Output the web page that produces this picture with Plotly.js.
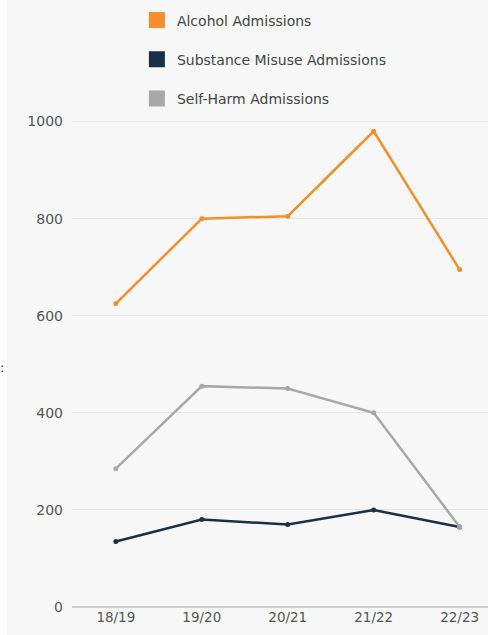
<!DOCTYPE html>
<html>
<head>
<meta charset="utf-8">
<script src="https://cdn.plot.ly/plotly-3.0.1.min.js"></script>
<style>
  html, body { margin: 0; padding: 0; background: #ffffff; width: 488px; height: 635px; overflow: hidden; }
  #chart { position: absolute; left: 7px; top: 0; width: 481px; height: 635px; }
  #frag { position: absolute; left: 0px; top: 360px; font-family: "DejaVu Sans"; font-size: 13px; color: #1b2f48; }
</style>
</head>
<body>
<span id="frag">:</span>
<div id="chart"></div>
<script>
const years = ["18/19", "19/20", "20/21", "21/22", "22/23"];
const alcohol = [625, 800, 805, 980, 695];
const substance = [135, 180, 170, 200, 165];
const selfHarm = [285, 455, 450, 400, 165];
const seriesNames = ["Alcohol Admissions", "Substance Misuse Admissions", "Self-Harm Admissions"];
const seriesColors = ["#f28f2c", "#1b2f48", "#a8a8a8"];
const yTicks = [0, 200, 400, 600, 800, 1000];

const allSeries = [alcohol, substance, selfHarm];
const traces = [];
allSeries.forEach((vals, i) => {
  traces.push({
    x: years, y: vals, type: "scatter", mode: "lines+markers",
    line: { color: seriesColors[i], width: 2.5 },
    marker: { color: seriesColors[i], size: 5 },
    showlegend: false, hoverinfo: "skip"
  });
});
allSeries.forEach((vals, i) => {
  traces.push({
    x: [null], y: [null], type: "scatter", mode: "markers",
    name: seriesNames[i], legendgroup: "g" + i,
    marker: { color: seriesColors[i], size: 16, symbol: "square" },
    showlegend: true
  });
});

const layout = {
  width: 481, height: 635,
  margin: { l: 65, r: 0, t: 107, b: 28 },
  paper_bgcolor: "#f7f7f7", plot_bgcolor: "#f7f7f7",
  font: { family: "DejaVu Sans", color: "#555555", size: 14 },
  xaxis: {
    type: "category", range: [-0.51, 4.33],
    showgrid: false, zeroline: false, showline: false,
    ticks: "", tickfont: { size: 13.5, color: "#555555" }
  },
  yaxis: {
    range: [0, 1030], tickvals: yTicks, ticktext: yTicks.map(String),
    showgrid: true, gridcolor: "#e6e6e6", gridwidth: 1,
    zeroline: true, zerolinecolor: "#cfcfcf", zerolinewidth: 1.5,
    ticks: "", ticklabelstandoff: 8, tickfont: { size: 14, color: "#555555" }
  },
  legend: {
    orientation: "v", x: 0.156, xanchor: "left", y: 1.205, yanchor: "top",
    traceorder: "grouped", tracegroupgap: 18,
    bgcolor: "rgba(0,0,0,0)", font: { size: 14, color: "#444444" },
    itemsizing: "trace"
  }
};

Plotly.newPlot("chart", traces, layout, { displayModeBar: false, staticPlot: true });
</script>
</body>
</html>
